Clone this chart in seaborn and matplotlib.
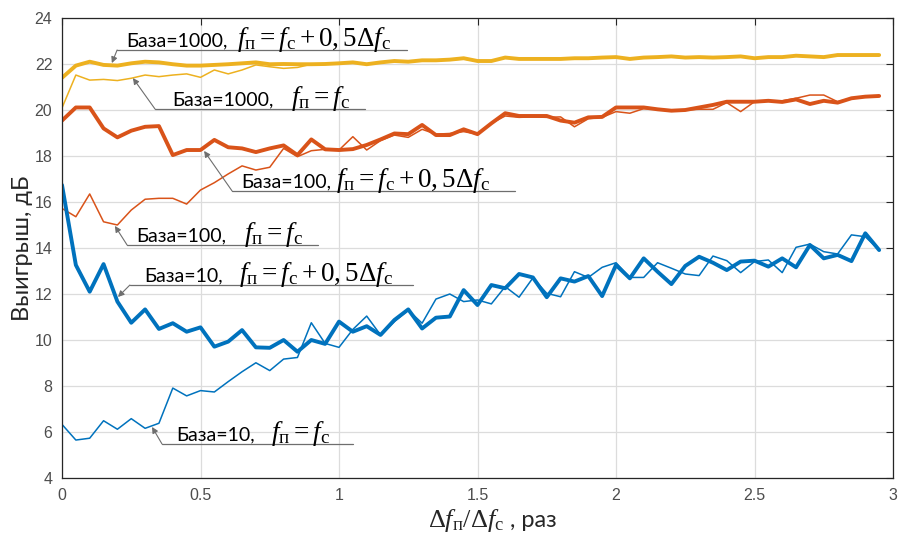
import numpy as np
import pandas as pd
import matplotlib
matplotlib.use("Agg")
import matplotlib.pyplot as plt
import seaborn as sns

# Frequency offset ratio, sampled with a step of 0.05
ratio = np.round(np.arange(60) * 0.05, 2)

base10_shift = [16.74, 13.26, 12.10, 13.30, 11.67, 10.75, 11.33, 10.48, 10.73, 10.36,
                10.55, 9.71, 9.93, 10.43, 9.68, 9.66, 10.00, 9.49, 10.00, 9.83,
                10.80, 10.36, 10.60, 10.22, 10.87, 11.33, 10.50, 10.97, 11.02, 12.17,
                11.52, 12.39, 12.25, 12.87, 12.72, 11.86, 12.68, 12.54, 12.78, 11.91,
                13.26, 12.68, 13.55, 12.97, 12.43, 13.22, 13.62, 13.36, 13.04, 13.41,
                13.45, 13.19, 13.55, 13.16, 14.13, 13.55, 13.70, 13.43, 14.64, 13.91]
base10_equal = [6.33, 5.65, 5.73, 6.49, 6.12, 6.58, 6.16, 6.38, 7.91, 7.57,
                7.80, 7.74, 8.19, 8.62, 9.01, 8.67, 9.17, 9.24, 10.75, 9.85,
                9.68, 10.46, 11.04, 10.22, 10.80, 11.30, 10.73, 11.78, 12.00, 11.67,
                11.74, 11.57, 12.32, 11.86, 12.70, 12.03, 11.88, 12.97, 12.72, 13.16,
                13.36, 12.72, 12.72, 13.36, 13.12, 12.87, 12.80, 13.65, 13.45, 12.93,
                13.41, 13.48, 12.93, 14.03, 14.17, 13.84, 13.74, 14.57, 14.49, 13.91]
base100_shift = [19.54, 20.11, 20.11, 19.20, 18.81, 19.10, 19.27, 19.30, 18.04, 18.26,
                 18.26, 18.70, 18.38, 18.33, 18.17, 18.33, 18.46, 18.04, 18.72, 18.29,
                 18.26, 18.30, 18.48, 18.72, 18.98, 18.95, 19.35, 18.91, 18.91, 19.16,
                 18.95, 19.42, 19.86, 19.74, 19.74, 19.74, 19.54, 19.45, 19.68, 19.70,
                 20.11, 20.11, 20.11, 20.03, 19.97, 20.00, 20.11, 20.22, 20.36, 20.36,
                 20.36, 20.40, 20.35, 20.46, 20.26, 20.40, 20.32, 20.51, 20.58, 20.61]
base100_equal = [15.72, 15.36, 16.35, 15.14, 15.00, 15.65, 16.12, 16.16, 16.16, 15.91,
                 16.52, 16.84, 17.22, 17.57, 17.39, 17.51, 18.33, 17.97, 18.23, 18.29,
                 18.26, 18.84, 18.26, 18.67, 18.91, 18.81, 19.16, 18.95, 18.98, 19.06,
                 18.95, 19.42, 19.74, 19.68, 19.70, 19.68, 19.70, 19.27, 19.62, 19.68,
                 19.93, 19.86, 20.06, 20.03, 19.97, 20.00, 20.03, 20.03, 20.32, 19.93,
                 20.36, 20.40, 20.40, 20.51, 20.65, 20.65, 20.36, 20.51, 20.60, 20.60]
base1000_shift = [21.40, 21.93, 22.10, 21.96, 21.93, 22.03, 22.10, 22.07, 21.99, 21.93,
                  21.93, 21.96, 21.99, 22.03, 22.07, 21.99, 22.00, 21.99, 21.99, 22.00,
                  22.03, 22.07, 21.99, 22.07, 22.13, 22.10, 22.16, 22.16, 22.19, 22.25,
                  22.13, 22.13, 22.28, 22.22, 22.22, 22.22, 22.22, 22.25, 22.25, 22.28,
                  22.30, 22.22, 22.28, 22.30, 22.33, 22.28, 22.30, 22.28, 22.30, 22.33,
                  22.25, 22.30, 22.30, 22.36, 22.33, 22.30, 22.39, 22.39, 22.39, 22.39]
base1000_equal = [20.09, 21.52, 21.30, 21.33, 21.28, 21.38, 21.52, 21.45, 21.52, 21.57,
                  21.42, 21.74, 21.57, 21.74, 21.96, 21.88, 21.81, 21.85, 21.99, 22.00,
                  22.03, 22.05, 22.01, 22.07, 22.11, 22.10, 22.15, 22.16, 22.18, 22.22,
                  22.12, 22.14, 22.26, 22.22, 22.22, 22.21, 22.22, 22.24, 22.25, 22.27,
                  22.29, 22.23, 22.27, 22.30, 22.32, 22.28, 22.30, 22.28, 22.31, 22.32,
                  22.26, 22.30, 22.31, 22.35, 22.33, 22.31, 22.38, 22.39, 22.38, 22.39]

x_ticks = [0, 0.5, 1, 1.5, 2, 2.5, 3]
x_tick_labels = ["0", "0.5", "1", "1.5", "2", "2.5", "3"]
y_ticks = [4, 6, 8, 10, 12, 14, 16, 18, 20, 22, 24]

BLUE, ORANGE, YELLOW = "#0072BD", "#D95319", "#EDB120"

sns.set_theme(style="white")
plt.rcParams["font.family"] = ["Lato", "DejaVu Sans"]
plt.rcParams["mathtext.fontset"] = "custom"
plt.rcParams["mathtext.rm"] = "Liberation Serif"
plt.rcParams["mathtext.it"] = "Liberation Serif:italic"
plt.rcParams["mathtext.bf"] = "Liberation Serif:bold"

fig = plt.figure(figsize=(8.98, 5.36), dpi=100)
ax = fig.add_axes([62 / 898, 1 - 478 / 536, (893 - 62) / 898, (478 - 18) / 536])

series = [
    (base10_equal, BLUE, 1.1),
    (base100_equal, ORANGE, 1.1),
    (base1000_equal, YELLOW, 1.1),
    (base10_shift, BLUE, 2.8),
    (base100_shift, ORANGE, 2.8),
    (base1000_shift, YELLOW, 2.8),
]
for values, color, lw in series:
    df = pd.DataFrame({"ratio": ratio, "gain": values})
    sns.lineplot(data=df, x="ratio", y="gain", color=color, linewidth=lw, ax=ax,
                 solid_joinstyle="round", solid_capstyle="round")

ax.set_xlim(0, 3)
ax.set_ylim(4, 24)
ax.set_xticks(x_ticks)
ax.set_xticklabels(x_tick_labels)
ax.set_yticks(y_ticks)
ax.grid(True, color="#dcdcdc", linewidth=0.9)
ax.set_axisbelow(True)
for sp in ax.spines.values():
    sp.set_color("#262626")
    sp.set_linewidth(0.9)
ax.tick_params(axis="both", direction="in", length=5, width=0.8, color="#262626",
               top=True, right=True, labelsize=11.5, labelcolor="#4d4d4d", pad=7)
for lab in ax.get_xticklabels() + ax.get_yticklabels():
    lab.set_family(["Liberation Sans", "DejaVu Sans"])

ax.set_xlabel("")
ax.set_ylabel("Выигрыш, дБ", fontsize=17, labelpad=1)

MATH_SIZE = 19.5
TEXT_SIZE = 14

# Curve captions: plain part, formula part, underline and leader arrow to the curve
captions = [
    ("База=1000,", r"$f_{\mathrm{п}} = f_{\mathrm{c}} + 0,5\Delta f_{\mathrm{c}}$", 10,
     0.231, (0.199, 1.245, 22.61), (0.18, 22.04)),
    ("База=1000,", r"$f_{\mathrm{п}} = f_{\mathrm{c}}$", 18,
     0.397, (0.336, 1.094, 20.04), (0.256, 21.39)),
    ("База=100,", r"$f_{\mathrm{п}} = f_{\mathrm{c}} + 0,5\Delta f_{\mathrm{c}}$", 5,
     0.646, (0.614, 1.635, 16.48), (0.513, 18.22)),
    ("База=100,", r"$f_{\mathrm{п}} = f_{\mathrm{c}}$", 18,
     0.267, (0.235, 0.924, 14.13), (0.191, 14.96)),
    ("База=10,", r"$f_{\mathrm{п}} = f_{\mathrm{c}} + 0,5\Delta f_{\mathrm{c}}$", 16,
     0.296, (0.245, 1.267, 12.39), (0.202, 11.87)),
    ("База=10,", r"$f_{\mathrm{п}} = f_{\mathrm{c}}$", 16,
     0.412, (0.361, 1.051, 5.48), (0.325, 6.22)),
]
plain_texts = []
for plain, formula, gap, tx, (ux0, ux1, uy), tip in captions:
    t = ax.text(tx, uy + 0.17, plain, fontsize=TEXT_SIZE, color="black",
                ha="left", va="baseline", zorder=5)
    plain_texts.append(t)
    ax.plot([ux0, ux1], [uy, uy], color="#6e6e6e", linewidth=0.9, zorder=5)
    ax.annotate("", xy=tip, xytext=(ux0, uy),
                arrowprops=dict(arrowstyle="-|>", color="#6e6e6e", lw=0.8,
                                mutation_scale=9, shrinkA=0, shrinkB=0), zorder=5)

# Formula parts follow the plain text on the same baseline
fig.canvas.draw()
renderer = fig.canvas.get_renderer()
inv = ax.transData.inverted()
for t, (plain, formula, gap, tx, (ux0, ux1, uy), tip) in zip(plain_texts, captions):
    bb = t.get_window_extent(renderer)
    fx = inv.transform((bb.x1 + gap, 0))[0]
    ax.text(fx, uy + 0.17, formula, fontsize=MATH_SIZE, color="black",
            ha="left", va="baseline", zorder=5)

# Axis caption under the x axis: formula followed by the unit
xl_math = fig.text(0, 0, r"$\Delta f_{\mathrm{п}}/\Delta f_{\mathrm{c}}$",
                   fontsize=19, ha="left", va="baseline")
xl_unit = fig.text(0, 0, " , раз", fontsize=17, ha="left", va="baseline")
fig.canvas.draw()
w1 = xl_math.get_window_extent(renderer).width
w2 = xl_unit.get_window_extent(renderer).width
left_px = 492 - (w1 + w2) / 2
base_y = 1 - 527 / 536
xl_math.set_position((left_px / 898, base_y))
xl_unit.set_position(((left_px + w1) / 898, base_y))

fig.savefig("out.png", dpi=100)
